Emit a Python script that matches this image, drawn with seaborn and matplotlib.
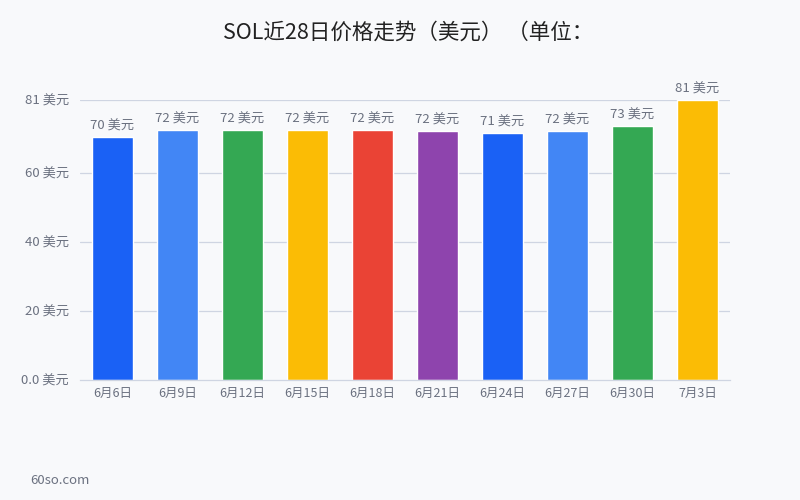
import matplotlib

matplotlib.use("Agg")

import matplotlib.pyplot as plt
import pandas as pd
import seaborn as sns

dates = ["6月6日", "6月9日", "6月12日", "6月15日", "6月18日",
         "6月21日", "6月24日", "6月27日", "6月30日", "7月3日"]
prices = [70.2, 72.4, 72.4, 72.3, 72.4, 72.1, 71.4, 72.1, 73.4, 81.0]
bar_colors = ["#1a61f5", "#4286f5", "#34a853", "#fbbc05", "#ea4335",
              "#8e44ad", "#1a61f5", "#4286f5", "#34a853", "#fbbc05"]
y_ticks = [0, 20, 40, 60, 81]
y_tick_labels = ["0.0 美元", "20 美元", "40 美元", "60 美元", "81 美元"]
title = "SOL近28日价格走势（美元） （单位："

bg = "#f8f9fb"
grid_color = "#cfd5e2"
text_gray = "#6b7180"

sns.set_theme(style="white")
plt.rcParams["font.family"] = ["Noto Sans CJK SC", "DejaVu Sans"]

df = pd.DataFrame({"date": dates, "price": prices})

fig = plt.figure(figsize=(8, 5), dpi=100, facecolor=bg)
ax = fig.add_axes([0.1, 0.24, 0.8125, 0.56])
ax.set_facecolor(bg)

sns.barplot(data=df, x="date", y="price", hue="date", palette=bar_colors,
            width=0.63, legend=False, saturation=1, ax=ax)

ax.set_ylim(0, 81)
ax.set_yticks(y_ticks)
ax.set_yticklabels(y_tick_labels, color=text_gray, fontsize=9.5)
ax.set_xticks(range(len(dates)))
ax.set_xticklabels(dates, color=text_gray, fontsize=9)
ax.tick_params(axis="y", length=0, pad=8)
ax.tick_params(axis="x", length=0, pad=5)
ax.set_xlim(-0.5, len(dates) - 0.5)
ax.set_xlabel("")
ax.set_ylabel("")

for y in y_ticks[1:]:
    ax.axhline(y, color=grid_color, linewidth=0.9, zorder=0)
for side in ["top", "right", "left"]:
    ax.spines[side].set_visible(False)
ax.spines["bottom"].set_color(grid_color)
ax.spines["bottom"].set_linewidth(0.9)

for i, p in enumerate(prices):
    ax.text(i, p + 1.3, f"{round(p)} 美元", ha="center", va="bottom",
            color=text_gray, fontsize=9.5)

fig.text(0.51, 0.935, title, ha="center", va="center", fontsize=15.5,
         color="#222222")
fig.text(0.0375, 0.04, "60so.com", ha="left", va="center", fontsize=9.5,
         color=text_gray)

fig.savefig("out.png", dpi=100, facecolor=bg)
